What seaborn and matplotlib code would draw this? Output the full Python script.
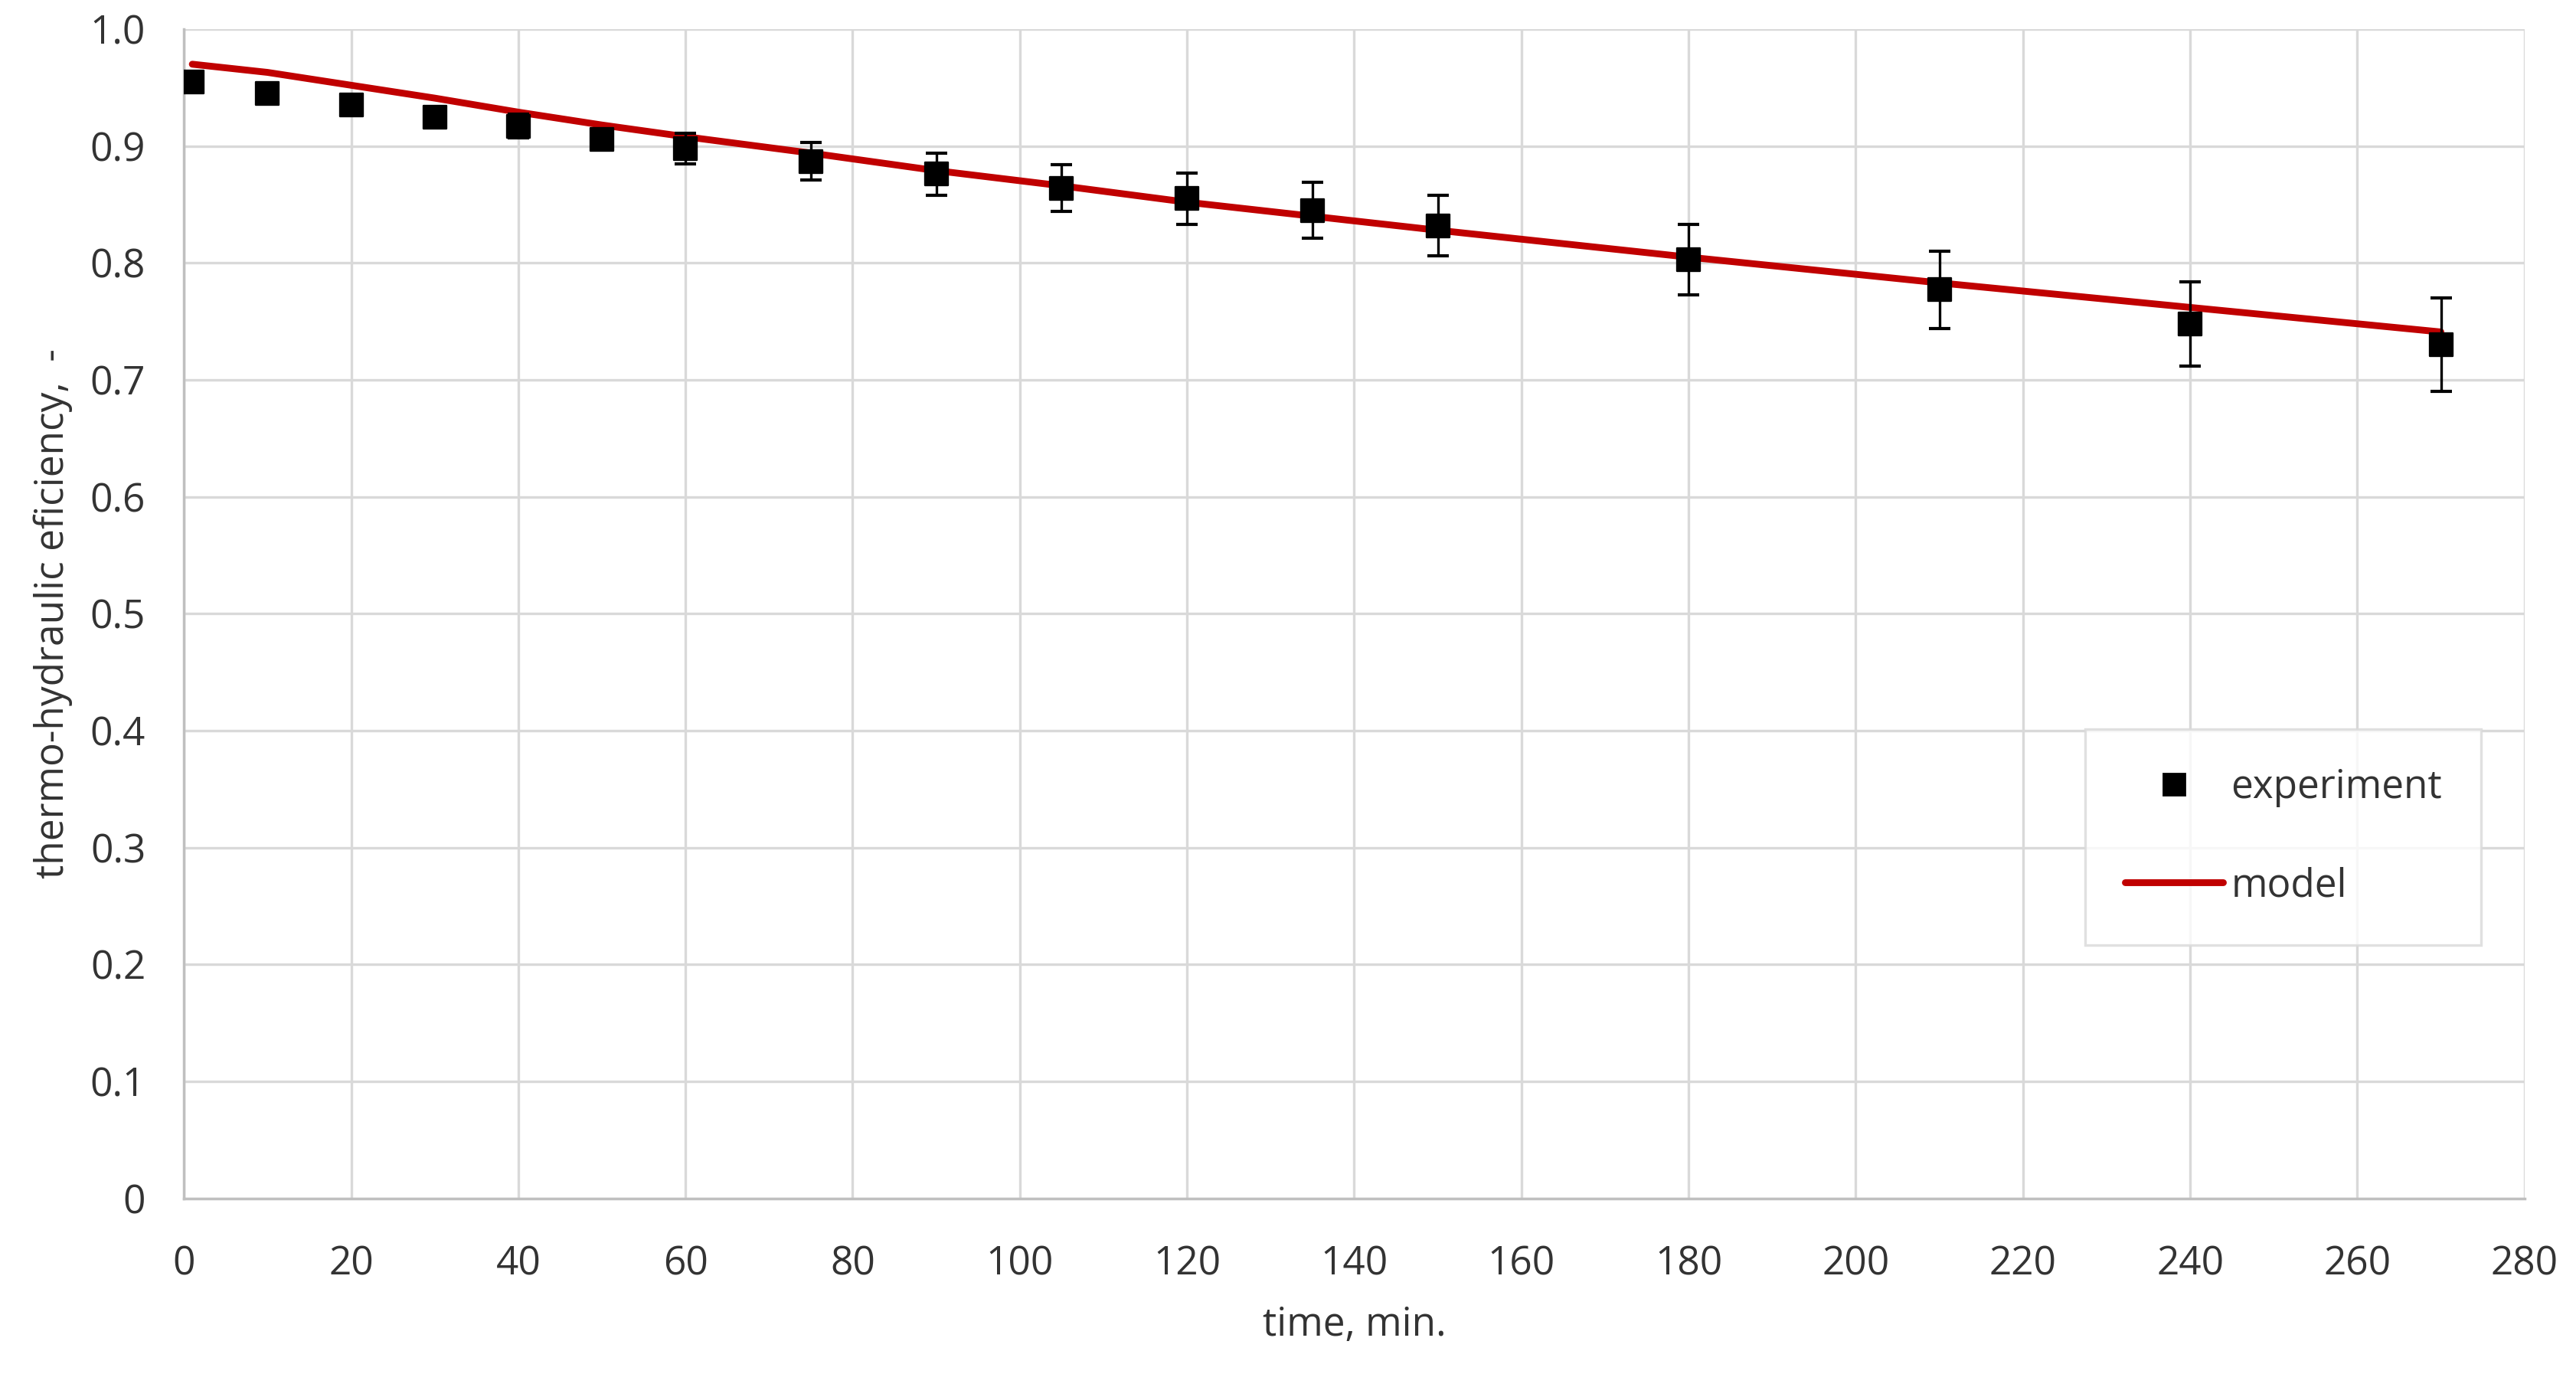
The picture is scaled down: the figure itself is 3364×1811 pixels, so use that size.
import matplotlib
matplotlib.use("Agg")
import matplotlib.pyplot as plt
import seaborn as sns
import numpy as np
from matplotlib.lines import Line2D

# experimental points
time_exp = [1, 10, 20, 30, 40, 50, 60, 75, 90, 105, 120, 135, 150, 180, 210, 240, 270]
eff_exp = [0.955, 0.945, 0.935, 0.925, 0.917, 0.906, 0.898, 0.887, 0.876, 0.864,
           0.855, 0.845, 0.832, 0.803, 0.777, 0.748, 0.730]
eff_err = [0.003, 0.003, 0.003, 0.004, 0.010, 0.005, 0.013, 0.016, 0.018, 0.020,
           0.022, 0.024, 0.026, 0.030, 0.033, 0.036, 0.040]

# model curve
time_model = [1, 10, 20, 30, 40, 50, 60, 75, 90, 105, 120, 135, 150, 180, 210, 240, 270]
eff_model = [0.970, 0.963, 0.952, 0.941, 0.929, 0.918, 0.908, 0.894, 0.879, 0.866,
             0.852, 0.840, 0.828, 0.805, 0.783, 0.762, 0.741]

sns.set_theme(style="whitegrid")
plt.rcParams['font.family'] = ['Open Sans', 'DejaVu Sans']

fig = plt.figure(figsize=(16.82, 9.055), dpi=200)
ax = fig.add_axes([0.0714, 0.136, 0.9086, 0.843])

sns.lineplot(x=time_model, y=eff_model, ax=ax, color='#c00000', linewidth=3.2, zorder=2)
ax.errorbar(time_exp, eff_exp, yerr=eff_err, fmt='none', ecolor='black',
            elinewidth=1.2, capsize=5, capthick=1.5, zorder=3)
sns.scatterplot(x=time_exp, y=eff_exp, ax=ax, marker='s', color='black', s=110,
                edgecolor='black', zorder=4)

ax.set_xlim(0, 280)
ax.set_ylim(0, 1.0)
ax.set_xticks(np.arange(0, 281, 20))
ax.set_yticks(np.arange(0, 1.01, 0.1))
ax.set_yticklabels(['0'] + [f'{v:.1f}' for v in np.arange(0.1, 1.01, 0.1)])
ax.tick_params(labelsize=18.5, colors='#333333')
ax.tick_params(axis='x', pad=16)
ax.tick_params(axis='y', pad=12)
ax.grid(True, color='#d9d9d9', linewidth=1.2)
for s in ['top', 'right']:
    ax.spines[s].set_visible(False)
for s in ['left', 'bottom']:
    ax.spines[s].set_color('#bfbfbf')
ax.set_xlabel('time, min.', fontsize=18.5, color='#333333', labelpad=10)
ax.set_ylabel('thermo-hydraulic eficiency,  -', fontsize=18.5, color='#333333', labelpad=8)

handles = [Line2D([], [], marker='s', color='black', linestyle='none', markersize=10),
           Line2D([], [], color='#c00000', linewidth=3.2)]
leg = ax.legend(handles, ['experiment', 'model'], loc='lower right',
                bbox_to_anchor=(0.99, 0.2), fontsize=18.5, frameon=True,
                fancybox=False, edgecolor='#d9d9d9', borderpad=1.0,
                labelspacing=1.5, handlelength=2.5, handletextpad=0.2)
leg.get_frame().set_linewidth(1.2)
for t in leg.get_texts():
    t.set_color('#333333')

fig.savefig('out.png', dpi=200, facecolor='white')
